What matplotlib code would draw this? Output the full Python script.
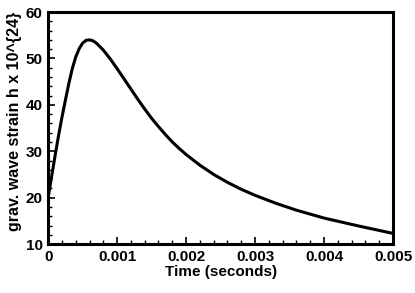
import matplotlib
matplotlib.use("Agg")
import matplotlib.pyplot as plt
from matplotlib.ticker import MultipleLocator

# values
time_s = [0.0, 0.00005, 0.0001, 0.00015, 0.0002, 0.00025, 0.0003, 0.00035, 0.0004,
          0.00045, 0.0005, 0.00055, 0.0006, 0.00065, 0.0007, 0.0008, 0.0009, 0.001,
          0.0011, 0.0012, 0.0013, 0.0014, 0.0015, 0.0016, 0.0017, 0.0018, 0.0019,
          0.002, 0.0022, 0.0024, 0.0026, 0.0028, 0.003, 0.0033, 0.0036, 0.004,
          0.0045, 0.005]
strain = [20.0, 24.5, 29.0, 33.3, 37.3, 41.0, 44.6, 47.8, 50.3,
          52.1, 53.3, 53.9, 54.0, 53.8, 53.3, 51.8, 49.9, 47.8,
          45.6, 43.4, 41.2, 39.1, 37.1, 35.3, 33.6, 32.0, 30.6,
          29.3, 27.0, 25.0, 23.3, 21.8, 20.5, 18.8, 17.3, 15.6,
          13.9, 12.3]

plt.rcParams["font.family"] = ["Liberation Sans", "DejaVu Sans"]
plt.rcParams["font.weight"] = "bold"

fig = plt.figure(figsize=(4.15, 2.93), dpi=100)
ax = fig.add_axes([0.116, 0.167, 0.831, 0.792])

ax.plot(time_s, strain, color="black", lw=2.2)

ax.set_xlim(0, 0.005)
ax.set_ylim(10, 60)
ax.xaxis.set_minor_locator(MultipleLocator(0.0002))
ax.yaxis.set_major_locator(MultipleLocator(10))
ax.yaxis.set_minor_locator(MultipleLocator(2))
ax.set_xticks([0, 0.001, 0.002, 0.003, 0.004, 0.005])
ax.set_xticklabels(["0", "0.001", "0.002", "0.003", "0.004", "0.005"])

ax.tick_params(which="both", direction="in", top=False, right=False,
               labelsize=11, pad=4, width=1.2)
ax.tick_params(which="major", length=5)
ax.tick_params(which="minor", length=3, width=1)
for lbl in ax.get_xticklabels() + ax.get_yticklabels():
    lbl.set_fontweight("bold")

for sp in ax.spines.values():
    sp.set_linewidth(2.2)

ax.set_xlabel("Time (seconds)", fontsize=11, fontweight="bold", labelpad=1)
ax.set_ylabel("grav. wave strain h x 10^{24}", fontsize=11.5, fontweight="bold")
# label sits a little above the axes centre in the reference
ax.yaxis.set_label_coords(-0.077, 0.53)

fig.savefig("out.png", dpi=100)
